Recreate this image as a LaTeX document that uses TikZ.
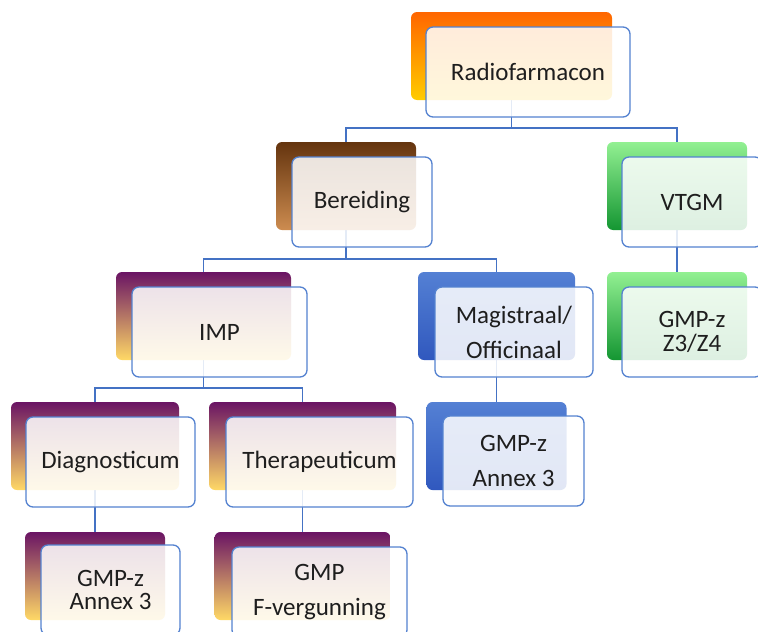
\documentclass[tikz,border=0pt]{standalone}
\usepackage{fontspec}
\setmainfont{Carlito}
\usetikzlibrary{backgrounds}
\definecolor{linec}{RGB}{68,114,196}
\definecolor{framec}{RGB}{84,130,208}
\definecolor{txtc}{RGB}{30,30,30}
\definecolor{orT}{RGB}{255,102,0}\definecolor{orB}{RGB}{255,204,0}
\definecolor{brT}{RGB}{100,52,14}\definecolor{brB}{RGB}{205,140,80}
\definecolor{grT}{RGB}{146,240,146}\definecolor{grB}{RGB}{20,150,50}
\definecolor{puT}{RGB}{106,20,100}\definecolor{puB}{RGB}{255,217,102}
\definecolor{blT}{RGB}{84,128,212}\definecolor{blB}{RGB}{48,88,190}
\tikzset{
  backbox/.style={rectangle, rounded corners=6pt, inner sep=0pt, outer sep=0pt,
    minimum height=88pt, draw=none},
  orangebox/.style={backbox, top color=orT, bottom color=orB},
  brownbox/.style={backbox, top color=brT, bottom color=brB},
  greenbox/.style={backbox, top color=grT, bottom color=grB},
  purplebox/.style={backbox, top color=puT, bottom color=puB},
  bluebox/.style={backbox, top color=blT, bottom color=blB},
  frontbox/.style={rectangle, rounded corners=7pt, inner sep=2pt, outer sep=0pt,
    minimum height=90pt, draw=framec, line width=1.3pt, fill=white,
    fill opacity=0.86, text opacity=1, draw opacity=1, text=txtc, align=center,
    font=\fontsize{25}{35}\selectfont},
  conn/.style={draw=linec, line width=1.5pt}
}
\begin{document}
\begin{tikzpicture}[x=1pt,y=-1pt]
\useasboundingbox (0,0) rectangle (758,632);
\clip (0,0) rectangle (758,632);
% bus levels
\coordinate (bus1) at (0,128);
\coordinate (bus2) at (0,259);
\coordinate (bus3) at (0,388);
% back boxes
\node[orangebox, minimum width=201pt] (rB) at (511.5,56) {};
\node[brownbox, minimum width=140pt] (bB) at (346,186) {};
\node[greenbox, minimum width=140pt] (vB) at (677,186) {};
\node[greenbox, minimum width=140pt] (zB) at (677,316) {};
\node[purplebox, minimum width=175pt] (iB) at (203.5,316) {};
\node[bluebox, minimum width=157pt] (mB) at (496.5,316) {};
\node[bluebox, minimum width=140pt] (maB) at (496.5,446) {};
\node[purplebox, minimum width=168pt] (dB) at (95,446) {};
\node[purplebox, minimum width=187pt] (tB) at (302.5,446) {};
\node[purplebox, minimum width=140pt] (daB) at (95,576) {};
\node[purplebox, minimum width=176pt] (fB) at (302.5,576) {};
% connectors
\begin{pgfonlayer}{background}
\draw[conn] (rB.south) -- (rB.south |- bus1) -| (bB.north);
\draw[conn] (rB.south |- bus1) -| (vB.north);
\draw[conn] (bB.south) -- (bB.south |- bus2) -| (iB.north);
\draw[conn] (bB.south |- bus2) -| (mB.north);
\draw[conn] (iB.south) -- (iB.south |- bus3) -| (dB.north);
\draw[conn] (iB.south |- bus3) -| (tB.north);
\draw[conn] (vB.south) -- (zB.north);
\draw[conn] (mB.south) -- (maB.north);
\draw[conn] (dB.south) -- (daB.north);
\draw[conn] (tB.south) -- (fB.north);
\end{pgfonlayer}
% front boxes
\node[frontbox, minimum width=204pt] (r) at (528,72) {Radiofarmacon};
\node[frontbox, minimum width=140pt] (b) at (362,202) {Bereiding};
\node[frontbox, minimum width=140pt] (v) at (692,202) {VTGM};
\node[frontbox, minimum width=140pt, font=\fontsize{25}{24}\selectfont] (z) at (692,332) {GMP-z\\Z3/Z4};
\node[frontbox, minimum width=175pt] (i) at (219.5,332) {IMP};
\node[frontbox, minimum width=158pt] (m) at (514,332) {Magistraal/\\Officinaal};
\node[frontbox, minimum width=141pt] (ma) at (513.5,461) {GMP-z\\Annex 3};
\node[frontbox, minimum width=169pt] (d) at (110.5,462) {Diagnosticum};
\node[frontbox, minimum width=187pt] (t) at (319.5,462) {Therapeuticum};
\node[frontbox, minimum width=139pt, font=\fontsize{25}{23}\selectfont] (da) at (110.5,590) {GMP-z\\Annex 3};
\node[frontbox, minimum width=175pt] (f) at (319.5,592) {GMP\\F-vergunning};
\end{tikzpicture}
\end{document}
